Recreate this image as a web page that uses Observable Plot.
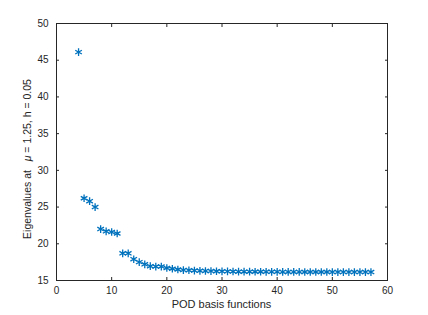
<!DOCTYPE html>
<html><head><meta charset="utf-8">
<script src="https://cdn.jsdelivr.net/npm/d3@7"></script>
<script src="https://cdn.jsdelivr.net/npm/@observablehq/plot@0.6"></script>
<style>body{margin:0;background:#fff} svg{display:block}</style>
</head><body><div id="chart"></div>
<script>
const basisFunctions = [4,5,6,7,8,9,10,11,12,13,14,15,16,17,18,19,20,21,22,23,24,25,26,27,28,29,30,31,32,33,34,35,36,37,38,39,40,41,42,43,44,45,46,47,48,49,50,51,52,53,54,55,56,57];
const eigenvalues = [46.1,26.2,25.8,25.0,22.0,21.7,21.6,21.4,18.7,18.7,17.9,17.5,17.2,16.95,16.9,16.9,16.7,16.6,16.5,16.42,16.4,16.35,16.32,16.3,16.28,16.26,16.25,16.24,16.22,16.2,
  16.2,16.2,16.19,16.19,16.18,16.18,16.18,16.17,16.17,16.17,16.17,16.16,16.16,16.16,16.16,16.16,16.15,16.15,16.15,16.15,16.15,16.15,16.15,16.15];
const xTicks = [0,10,20,30,40,50,60];
const yTicks = [15,20,25,30,35,40,45,50];
const xLabel = "POD basis functions";
const yLabelPre = "Eigenvalues at\u00a0\u00a0\u00a0";
const yLabelMu = "μ";
const yLabelPost = " = 1.25, h = 0.05";

const data = basisFunctions.map((x, i) => ({x, y: eigenvalues[i]}));
const axisColor = "#262626";
const ticksOnly = () => "";

const chart = Plot.plot({
  width: 428, height: 315,
  marginLeft: 56, marginRight: 41, marginTop: 23, marginBottom: 35,
  style: {fontFamily: "'Liberation Sans', Arial, sans-serif", fontSize: "10px", color: axisColor, background: "#fff"},
  x: {domain: [0, 60]},
  y: {domain: [15, 50]},
  marks: [
    Plot.axisX(xTicks, {anchor: "bottom", tickSize: 0, tickPadding: 6, label: null}),
    Plot.axisY(yTicks, {anchor: "left", tickSize: 0, tickPadding: 8, label: null}),
    Plot.axisX(xTicks, {anchor: "bottom", tickSize: -3, tickFormat: ticksOnly, label: null, stroke: axisColor}),
    Plot.axisX(xTicks, {anchor: "top", tickSize: -3, tickFormat: ticksOnly, label: null, stroke: axisColor}),
    Plot.axisY(yTicks, {anchor: "left", tickSize: -3, tickFormat: ticksOnly, label: null, stroke: axisColor}),
    Plot.axisY(yTicks, {anchor: "right", tickSize: -3, tickFormat: ticksOnly, label: null, stroke: axisColor}),
    Plot.frame({stroke: axisColor, strokeWidth: 1}),
    Plot.dot(data, {x: "x", y: "y", symbol: "asterisk", r: 3.6, stroke: "#0072BD", strokeWidth: 1.3})
  ]
});

const svg = d3.select(chart);
svg.append("text")
  .attr("x", (56 + 387) / 2).attr("y", 308)
  .attr("text-anchor", "middle")
  .attr("font-size", "11px").attr("fill", axisColor)
  .text(xLabel);
const yl = svg.append("text")
  .attr("transform", "translate(31,159) rotate(-90)")
  .attr("text-anchor", "middle")
  .attr("font-size", "10.5px").attr("fill", axisColor);
yl.append("tspan").text(yLabelPre);
yl.append("tspan").attr("font-style", "italic").text(yLabelMu);
yl.append("tspan").text(yLabelPost);

document.getElementById("chart").appendChild(chart);
</script>
</body></html>
